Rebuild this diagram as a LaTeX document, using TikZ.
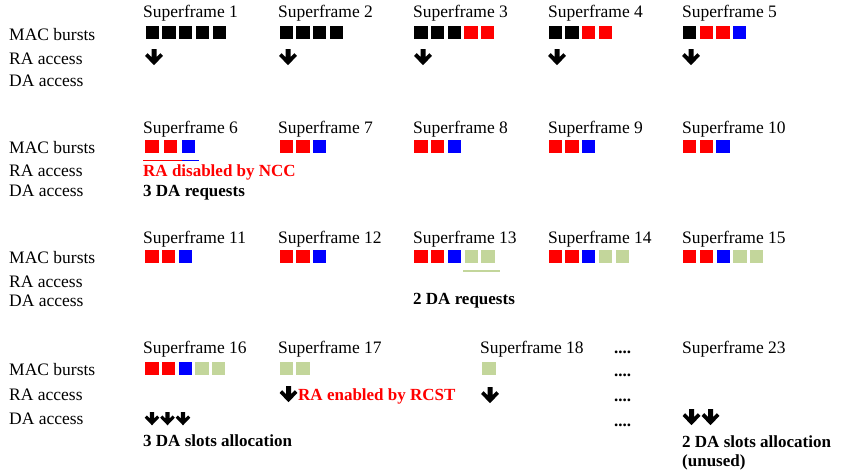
\documentclass[tikz,border=0pt]{standalone}
\usepackage{fontspec}
\setmainfont{Liberation Serif}
\definecolor{burstK}{HTML}{000000}
\definecolor{burstR}{HTML}{FF0000}
\definecolor{burstB}{HTML}{0000FF}
\definecolor{burstG}{HTML}{C3D69B}

% one row of MAC burst squares: name, left x, top y, pitch, colour list
\newcommand\burstrow[5]{%
  \foreach \c [count=\i from 0] in {#5}
    {\node[burst,fill=\c] (#1-\i) at ({#2+\i*#4},#3) {};}}

\tikzset{
  txt/.style={anchor=base west,inner sep=0pt,font=\fontsize{17.5}{20}\selectfont},
  btxt/.style={anchor=base west,inner sep=0pt,font=\fontsize{17}{20}\selectfont\bfseries},
  burst/.style={anchor=north west,inner sep=0pt,minimum width=13.3pt,minimum height=13pt,draw=none},
  darr/.pic={\fill[black] (-2.5,0) -- (2.5,0) -- (2.5,8.0) -- (6.3,4.2) -- (8.9,6.9)
     -- (0,16.2) -- (-8.9,6.9) -- (-6.3,4.2) -- (-2.5,8.0) -- cycle;}
}

\begin{document}
\begin{tikzpicture}[x=1pt,y=-1pt]
\useasboundingbox (0,0) rectangle (842,475);

% row labels
\foreach \k/\m/\ra/\da in {1/40/64/86, 2/153/176/196, 3/263/287/306, 4/375/400/424}{
  \node[txt] (mac\k) at (9,\m) {MAC bursts};
  \node[txt] (ra\k)  at (9,\ra) {RA access};
  \node[txt] (da\k)  at (9,\da) {DA access};
}

% ---------- superframes 1-5 ----------
\node[txt] (t1) at (143,17) {Superframe 1};
\node[txt] (t2) at (278,17) {Superframe 2};
\node[txt] (t3) at (413,17) {Superframe 3};
\node[txt] (t4) at (548,17) {Superframe 4};
\node[txt] (t5) at (682,17) {Superframe 5};
\burstrow{sf1}{145.5}{26}{16.7}{burstK,burstK,burstK,burstK,burstK}
\burstrow{sf2}{279.3}{26}{16.7}{burstK,burstK,burstK,burstK}
\burstrow{sf3}{414}{26}{16.7}{burstK,burstK,burstK,burstR,burstR}
\burstrow{sf4}{548.5}{26}{16.7}{burstK,burstK,burstR,burstR}
\burstrow{sf5}{682.7}{26}{16.7}{burstK,burstR,burstR,burstB}
\pic (ar1) at (154,49) {darr};
\pic (ar2) at (288,49) {darr};
\pic (ar3) at (423,49) {darr};
\pic (ar4) at (557,49) {darr};
\pic (ar5) at (691,49) {darr};

% ---------- superframes 6-10 ----------
\node[txt] (t6) at (143,133) {Superframe 6};
\node[txt] (t7) at (278,133) {Superframe 7};
\node[txt] (t8) at (413,133) {Superframe 8};
\node[txt] (t9) at (548,133) {Superframe 9};
\node[txt] (t10) at (682,133) {Superframe 10};
\burstrow{sf6}{145}{139.5}{18.3}{burstR,burstR,burstB}
\burstrow{sf7}{279.3}{139.5}{16.7}{burstR,burstR,burstB}
\burstrow{sf8}{414}{139.5}{16.7}{burstR,burstR,burstB}
\burstrow{sf9}{548.3}{139.5}{16.7}{burstR,burstR,burstB}
\burstrow{sf10}{682.7}{139.5}{16.7}{burstR,burstR,burstB}
\coordinate (u6a) at (143,160.7);
\coordinate (u6b) at (181.7,160.7);
\coordinate (u6c) at (199.3,160.7);
\draw[burstR,line width=1.4pt] (u6a) -- (u6b);
\draw[burstB,line width=1.4pt] (u6b) -- (u6c);
\node[btxt,text=burstR] (radis) at (143,176) {RA disabled by NCC};
\node[btxt] (req3) at (143,196) {3 DA requests};

% ---------- superframes 11-15 ----------
\node[txt] (t11) at (143,243) {Superframe 11};
\node[txt] (t12) at (278,243) {Superframe 12};
\node[txt] (t13) at (413,243) {Superframe 13};
\node[txt] (t14) at (548,243) {Superframe 14};
\node[txt] (t15) at (682,243) {Superframe 15};
\burstrow{sf11}{145}{250}{16.7}{burstR,burstR,burstB}
\burstrow{sf12}{279.3}{250}{16.7}{burstR,burstR,burstB}
\burstrow{sf13}{414}{250}{16.8}{burstR,burstR,burstB,burstG,burstG}
\burstrow{sf14}{548.3}{250}{16.8}{burstR,burstR,burstB,burstG,burstG}
\burstrow{sf15}{682.7}{250}{16.8}{burstR,burstR,burstB,burstG,burstG}
\coordinate (u13a) at (463,271);
\coordinate (u13b) at (500,271);
\draw[burstG,line width=1.8pt] (u13a) -- (u13b);
\node[btxt] (req2) at (413,304) {2 DA requests};

% ---------- superframes 16-23 ----------
\node[txt] (t16) at (143,353) {Superframe 16};
\node[txt] (t17) at (278,353) {Superframe 17};
\node[txt] (t18) at (480,353) {Superframe 18};
\node[txt] (t23) at (682,353) {Superframe 23};
\burstrow{sf16}{145}{362}{16.7}{burstR,burstR,burstB,burstG,burstG}
\burstrow{sf17}{279.3}{362}{16.7}{burstG,burstG}
\burstrow{sf18}{482}{362}{16.7}{burstG}
\foreach \y [count=\j] in {353,376,401,426}
  \node[btxt] (dots\j) at (614,\y) {....};
\pic (ar17) at (288.5,386) {darr};
\node[btxt,text=burstR] (raen) at (298,400) {RA enabled by RCST};
\pic (ar18) at (490,387) {darr};
\pic[scale=0.82] (da16a) at (152,412) {darr};
\pic[scale=0.82] (da16b) at (167.5,412) {darr};
\pic[scale=0.82] (da16c) at (183,412) {darr};
\node[btxt] (alloc3) at (143,446) {3 DA slots allocation};
\pic (da23a) at (691.5,409) {darr};
\pic (da23b) at (710.5,409) {darr};
\node[btxt] (alloc2) at (682,447) {2 DA slots allocation};
\node[btxt] (unused) at (682,466) {(unused)};
\end{tikzpicture}
\end{document}
